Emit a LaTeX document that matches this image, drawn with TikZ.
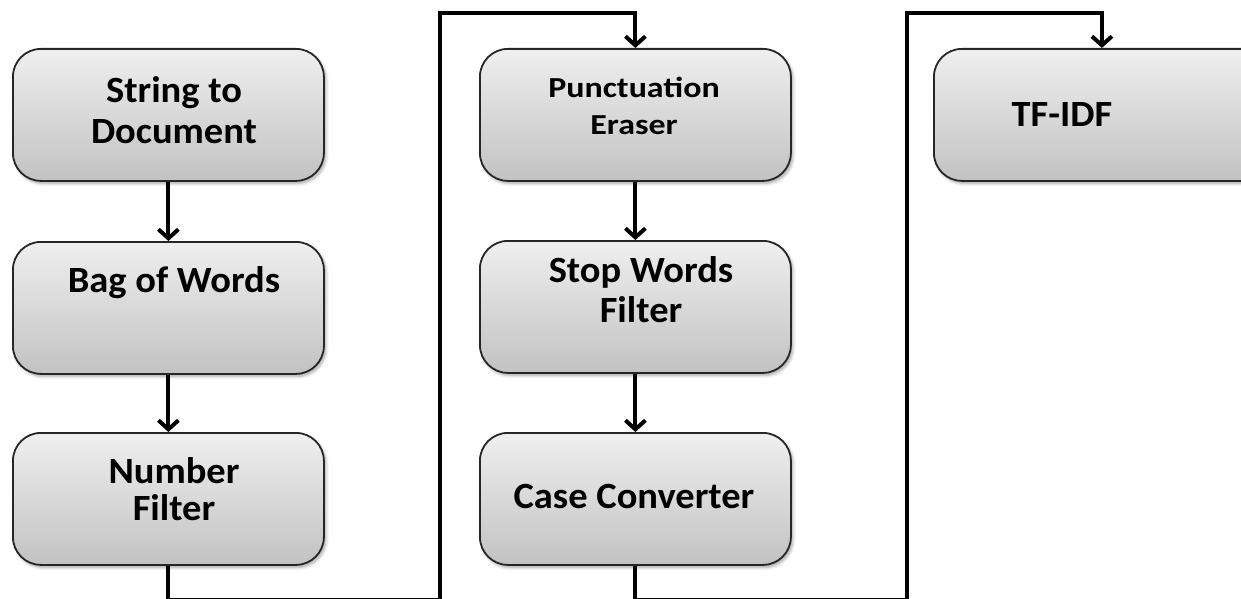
\documentclass[tikz,border=0pt]{standalone}
\usepackage{fontspec}
\setmainfont{Carlito}
\newfontfamily\widecaption[FakeStretch=1.04]{Carlito}
\newfontfamily\widercaption[FakeStretch=1.17]{Carlito}
\usetikzlibrary{arrows.meta,shadows.blur}
\definecolor{boxtop}{HTML}{EFEFEF}
\definecolor{boxbot}{HTML}{C2C2C2}
\definecolor{edge}{HTML}{262626}
\tikzset{
  stage/.style={draw=edge, line width=1.8pt, rounded corners=28pt,
    top color=boxtop, bottom color=boxbot,
    minimum width=311pt, minimum height=132pt, inner sep=0pt,
    anchor=north west,
    blur shadow={shadow xshift=2pt, shadow yshift=-2.5pt,
      shadow blur steps=6, shadow blur radius=3pt, shadow opacity=35}},
  lbl/.style={font=\widecaption\fontsize{37}{41}\selectfont\bfseries,
    align=center, inner sep=0pt, anchor=base},
  lblsmall/.style={lbl, font=\widercaption\fontsize{29}{36}\selectfont\bfseries},
  flow/.style={line width=4pt, -{Straight Barb[length=9pt,width=20pt]}},
}
\begin{document}
\begin{tikzpicture}[x=1pt,y=-1pt]
\useasboundingbox (0,0) rectangle (1241,599);

% processing stages, first column
\node[stage] (sd) at (12,48) {};
\node[stage] (bw) at (12,241) {};
\node[stage] (nf) at (12,432) {};
% second column
\node[stage] (pe) at (479,48) {};
\node[stage] (sw) at (479,240) {};
\node[stage] (cc) at (479,432) {};
% third column
\node[stage, minimum width=336pt] (tf) at (933,48) {};

% stage captions (anchored on the baseline of their last line)
\node[lbl] (sdt) at (174,143) {String to\\Document};
\node[lbl] (bwt) at (174,292) {Bag of Words};
\node[lbl, font=\widecaption\fontsize{37}{37}\selectfont\bfseries] (nft) at (174,520) {Number\\Filter};
\node[lblsmall] (pet) at (634,134) {Punctuation\\Eraser};
\node[lbl, font=\widecaption\fontsize{37}{40}\selectfont\bfseries] (swt) at (641,322) {Stop Words\\Filter};
\node[lbl] (cct) at (634,508) {Case Converter};
\node[lbl] (tft) at (1062,127) {TF-IDF};

% routing points of the column changes
\coordinate (low1) at (440,600);
\coordinate (high1) at (440,13);
\coordinate (low2) at (907,600);
\coordinate (high2) at (907,13);

% connectors
\draw[flow] (sd.south) -- (bw.north);
\draw[flow] (bw.south) -- (nf.north);
\draw[flow] (nf.south) |- (low1) -- (high1) -| (pe.north);
\draw[flow] (pe.south) -- (sw.north);
\draw[flow] (sw.south) -- (cc.north);
\draw[flow] (cc.south) |- (low2) -- (high2) -| (tf.north);
\end{tikzpicture}
\end{document}
